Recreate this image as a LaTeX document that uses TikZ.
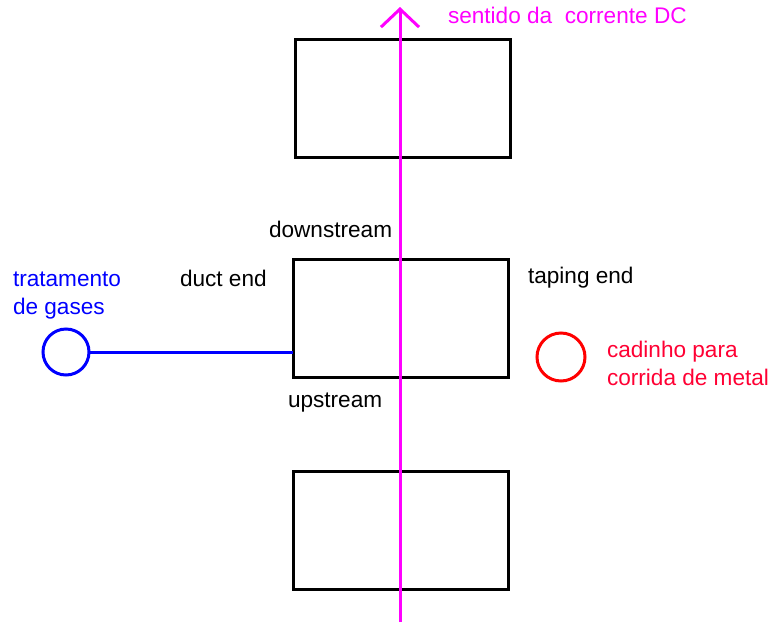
\documentclass[tikz,border=0pt]{standalone}
\usepackage{fontspec}
\setmainfont{Liberation Sans}
\usetikzlibrary{arrows.meta, positioning}
\definecolor{dccolor}{RGB}{255,0,255}
\definecolor{gascolor}{RGB}{0,0,255}
\definecolor{metalcolor}{RGB}{255,0,0}
\definecolor{metaltext}{RGB}{255,0,51}
\begin{document}
\begin{tikzpicture}[
        x=1pt, y=-1pt, on grid,
        every node/.style={font=\fontsize{22.6}{28}\selectfont, inner sep=0pt, outer sep=0pt},
        cell/.style={draw, line width=3pt, minimum width=215pt, minimum height=118pt},
        port/.style={draw, circle, line width=3pt, minimum size=46pt},
        lbl/.style={anchor=base west, align=left},
        ]
        \useasboundingbox (0,0) rectangle (772,622);

        \node[cell]                       (cell_mid) at (400.5,318) {};
        \node[cell] [above=220pt of cell_mid, xshift=2pt] (cell_top) {};
        \node[cell] [below=212pt of cell_mid]  (cell_bot) {};

        \node[port, gascolor]   (gas)   at (66,352)  {};
        \node[port, metalcolor, minimum size=48pt] (metal) at (561,357) {};
        \draw[gascolor, line width=3pt] (gas.east) -- (gas.east -| cell_mid.west);

        \coordinate (dc_bot) at (400,622);
        \coordinate (dc_top) at (400,7);
        \draw[dccolor, line width=3pt, -{Straight Barb[length=18pt, width=38pt]}] (dc_bot) -- (dc_top);

        % two-line labels: base is the last line
        \node[lbl, dccolor]   (dc_lbl)    at (448,23)  {sentido da\ \ corrente DC};
        \node[lbl]            (down_lbl)  at (269,237) {downstream};
        \node[lbl]            (up_lbl)    at (288,407) {upstream};
        \node[lbl]            (duct_lbl)  at (180,286) {duct end};
        \node[lbl]            (tap_lbl)   at (528,283) {taping end};
        \node[lbl, gascolor]  (gas_lbl)   at (13,314)  {tratamento\\de gases};
        \node[lbl, metaltext] (metal_lbl) at (607,385) {cadinho para\\corrida de metal};
      \end{tikzpicture}
\end{document}
